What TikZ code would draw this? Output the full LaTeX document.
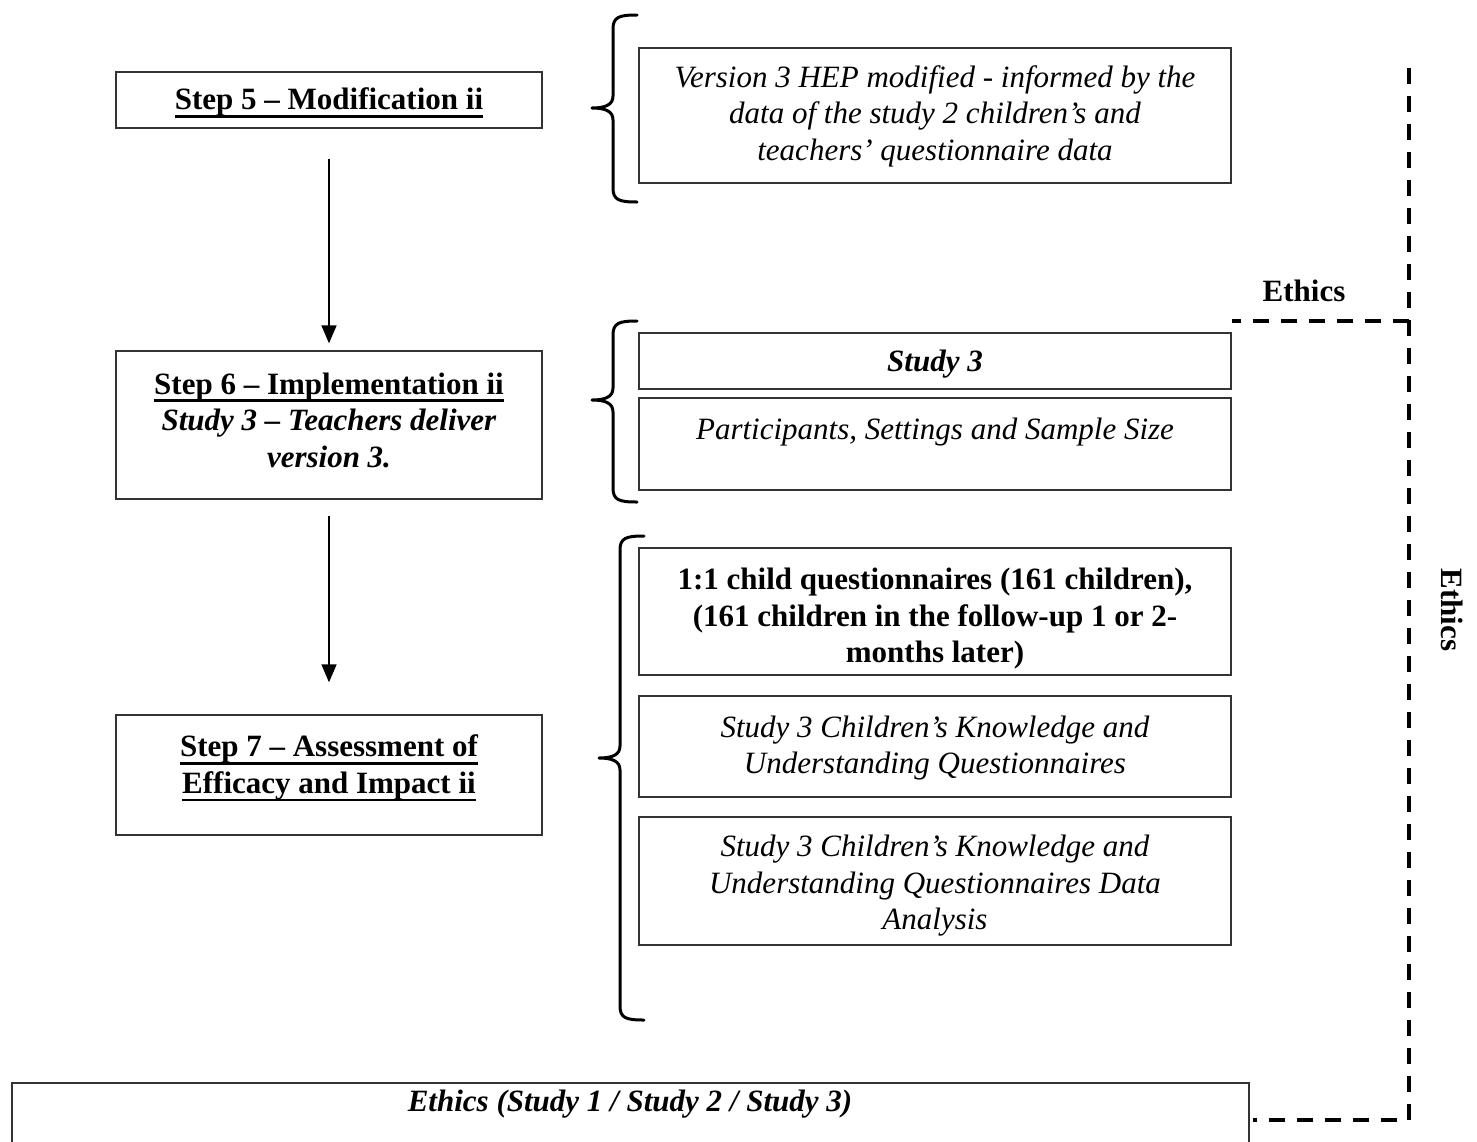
\documentclass[tikz,border=0pt]{standalone}
\usepackage{fontspec}
\setmainfont{Liberation Serif}
\usetikzlibrary{arrows.meta,calc}

% heavy underline set a little below the baseline
\newsavebox\ulbox
\newcommand\heavyul[1]{\sbox\ulbox{#1}\rlap{\rule[-8pt]{\wd\ulbox}{2.6pt}}\usebox\ulbox}

% curly brace opening to the right: #1 = x of the spine, #2 = top, #3 = tip, #4 = bottom
\newcommand\bracedraw[4]{%
  \draw[bracestyle] (#1+24,#2) .. controls (#1+6,#2) and (#1,#2+2) .. (#1,#2+14)
    -- (#1,#3-12) .. controls (#1,#3-3) and (#1-8,#3) .. (#1-21,#3)
    .. controls (#1-8,#3) and (#1,#3+3) .. (#1,#3+12)
    -- (#1,#4-14) .. controls (#1,#4-2) and (#1+6,#4) .. (#1+24,#4);}

\begin{document}
\begin{tikzpicture}[x=1pt,y=-1pt,
  frame/.style={draw=black!80, line width=1.3pt, inner sep=0pt},
  lbl/.style={align=center, inner sep=0pt, font=\fontsize{31}{36.5}\selectfont},
  flow/.style={line width=1.5pt, -{Triangle[length=18pt,width=15pt]}},
  ethicsline/.style={line width=3.5pt, dash pattern=on 16pt off 12pt},
  bracestyle/.style={line width=3pt, line cap=round, line join=round}]
\useasboundingbox (0,0) rectangle (1477,1141);

% left column: steps
\node[frame, minimum width=426pt, minimum height=56pt]  (s5) at (329,100) {};
\node[frame, minimum width=426pt, minimum height=148pt] (s6) at (329,425) {};
\node[frame, minimum width=426pt, minimum height=120pt] (s7) at (329,775) {};

\node[lbl] (s5t) at (329,103) {\textbf{\heavyul{Step 5 – Modification ii}}};
\node[lbl] (s6t) at (329,420) {\textbf{\heavyul{Step 6 – Implementation ii}}\\
  \textbf{\textit{Study 3 – Teachers deliver}}\\ \textbf{\textit{version 3.}}};
\node[lbl] (s7t) at (329,768) {\textbf{\heavyul{Step 7 – Assessment of}}\\
  \textbf{\heavyul{Efficacy and Impact ii}}};

% right column: details of each step
\node[frame, minimum width=592pt, minimum height=135pt] (va)  at (935,115.5) {};
\node[frame, minimum width=592pt, minimum height=56pt]  (st3) at (935,361) {};
\node[frame, minimum width=592pt, minimum height=92pt]  (psz) at (935,444) {};
\node[frame, minimum width=592pt, minimum height=127pt] (c1)  at (935,611.5) {};
\node[frame, minimum width=592pt, minimum height=101pt] (c2)  at (935,746.5) {};
\node[frame, minimum width=592pt, minimum height=128pt] (c3)  at (935,881) {};

\node[lbl] (vat) at (935,116) {\textit{Version 3 HEP modified - informed by the}\\
  \textit{data of the study 2 children’s and}\\ \textit{teachers’ questionnaire data}};
\node[lbl] (st3t) at (935,364) {\textbf{\textit{Study 3}}};
\node[lbl] (pszt) at (935,432) {\textit{Participants, Settings and Sample Size}};
\node[lbl] (c1t) at (935,619) {\textbf{1:1 child questionnaires (161 children),}\\
  \textbf{(161 children in the follow-up 1 or 2-}\\ \textbf{months later)}};
\node[lbl] (c2t) at (935,748) {\textit{Study 3 Children’s Knowledge and}\\
  \textit{Understanding Questionnaires}};
\node[lbl] (c3t) at (935,886) {\textit{Study 3 Children’s Knowledge and}\\
  \textit{Understanding Questionnaires Data}\\ \textit{Analysis}};

% ethics box along the bottom
\node[frame, minimum width=1237pt, minimum height=87pt] (eth) at (630.5,1126.5) {};
\node[lbl] (etht) at (630,1104) {\textbf{\textit{Ethics (Study 1 / Study 2 / Study 3)}}};

% flow arrows
\draw[flow] ($(s5.south)+(0,30)$) -- ($(s6.north)+(0,-7)$);
\draw[flow] ($(s6.south)+(0,16)$) -- ($(s7.north)+(0,-32)$);

% braces
\bracedraw{613}{15}{108}{202}
\bracedraw{613}{321}{400}{502}
\bracedraw{620}{536}{758}{1020}

% dashed ethics line
\coordinate (etop) at (1409,68);
\coordinate (ecorner) at (1409,1120);
\coordinate (eend) at (1253,1120);
\coordinate (ebranch) at (1409,321);
\draw[ethicsline] (etop) -- (ecorner) -- (eend);
\draw[ethicsline] (ebranch) -- (st3.north east |- ebranch);

\node[lbl] (elbl) at (1304,291) {\textbf{Ethics}};
\node[lbl, rotate=-90] (elbl2) at (1452,610) {\textbf{Ethics}};
\end{tikzpicture}
\end{document}
